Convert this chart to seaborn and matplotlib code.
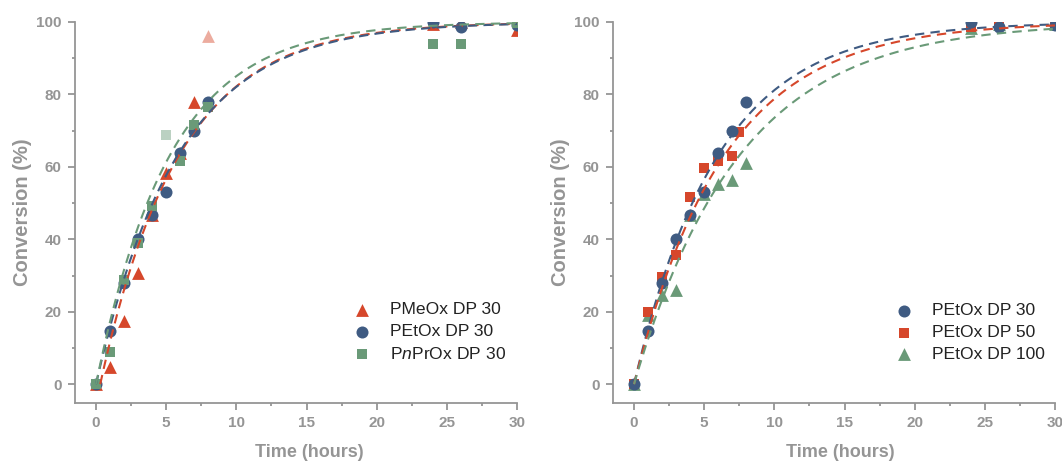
import numpy as np
import pandas as pd
import matplotlib
matplotlib.use("Agg")
import matplotlib.pyplot as plt
from matplotlib.ticker import MultipleLocator
import seaborn as sns

sns.set_theme(style="white")
plt.rcParams['font.family'] = ['Liberation Sans', 'DejaVu Sans']
plt.rcParams['mathtext.fontset'] = 'custom'
plt.rcParams['mathtext.it'] = 'Liberation Sans:italic'
plt.rcParams['mathtext.rm'] = 'Liberation Sans'

# ---------------- data ----------------
time_pts = [0, 1, 2, 3, 4, 5, 6, 7, 8, 24, 26, 30]

# Left panel
pmeox_30 = [0, 4.7, 17.4, 30.7, 46.7, 58.2, 63.7, 78.0, 96.0, 99.4, 100.0, 97.8]
pmeox_30_excluded = [False, False, False, False, False, False, False, False, True, False, False, False]
petox_30 = [0, 14.6, 27.8, 40.2, 46.6, 53.0, 63.7, 69.9, 77.9, 100.0, 98.5, 99.2]
pnprox_30 = [0, 8.8, 28.7, 39.0, 49.2, 68.7, 61.7, 71.5, 76.5, 94.0, 94.0, 99.7]
pnprox_30_excluded = [False, False, False, False, False, True, False, False, False, False, False, False]

# Right panel
time_dp50 = [0, 1, 2, 3, 4, 5, 6, 7, 7.5, 24, 26, 30]
petox_50 = [0, 20.0, 29.5, 35.6, 51.6, 59.8, 61.6, 63.0, 69.7, 98.7, 99.4, 99.4]
petox_100 = [0, 19.0, 24.6, 26.0, 46.6, 52.4, 55.4, 56.4, 61.1, 98.3, 99.4, 99.4]

# First-order fit parameters: rate constant k (1/h) and lag t0 (h)
left_fit_names = ["PMeOx DP 30", "PEtOx DP 30", "PnPrOx DP 30"]
left_fit_k = [0.178, 0.172, 0.19]
left_fit_t0 = [0.3, 0.0, 0.0]
right_fit_names = ["PEtOx DP 30", "PEtOx DP 50", "PEtOx DP 100"]
right_fit_k = [0.167, 0.155, 0.133]
right_fit_t0 = [0.0, 0.0, 0.0]

RED = "#d6472b"
BLUE = "#3f5b82"
GREEN = "#6a9a78"
GRAY = "#959595"

def fit_frame(names, ks, t0s):
    rows = []
    for n, k, t0 in zip(names, ks, t0s):
        t = np.linspace(t0, 30, 300)
        y = 100 * (1 - np.exp(-k * (t - t0)))
        rows.append(pd.DataFrame({"t": t, "y": y, "series": n}))
    return pd.concat(rows, ignore_index=True)

def style_ax(ax, xlab_x):
    ax.set_xlim(-1.5, 30)
    ax.set_ylim(-5.2, 100)
    ax.xaxis.set_major_locator(MultipleLocator(5))
    ax.xaxis.set_minor_locator(MultipleLocator(2.5))
    ax.yaxis.set_major_locator(MultipleLocator(20))
    ax.yaxis.set_minor_locator(MultipleLocator(10))
    for s in ["top", "right"]:
        ax.spines[s].set_visible(False)
    for s in ["left", "bottom"]:
        ax.spines[s].set_color(GRAY)
        ax.spines[s].set_linewidth(1.3)
    ax.tick_params(which="major", direction="out", length=5, width=1.3, color=GRAY,
                   labelcolor=GRAY, labelsize=11, bottom=True, left=True, pad=4.5)
    ax.tick_params(which="minor", direction="out", length=2.5, width=1.3, color=GRAY,
                   bottom=True, left=True)
    for lab in ax.get_xticklabels() + ax.get_yticklabels():
        lab.set_fontweight("bold")
    ax.set_xlabel("Time (hours)", fontsize=13, fontweight="bold", color=GRAY)
    ax.xaxis.set_label_coords(xlab_x, -0.108)
    ax.set_ylabel("Conversion (%)", fontsize=14.5, fontweight="bold", color=GRAY, labelpad=3)
    ax.grid(False)

fig = plt.figure(figsize=(10.62, 4.63), dpi=100)
axL = fig.add_axes([0.0706, 0.1296, 0.4162, 0.8229])
axR = fig.add_axes([0.5772, 0.1296, 0.4162, 0.8229])

# ---------- left panel ----------
lab_n = r"P$\mathit{n}$PrOx DP 30"
dfL = pd.concat([
    pd.DataFrame({"t": time_pts, "y": pmeox_30, "series": "PMeOx DP 30", "excl": pmeox_30_excluded}),
    pd.DataFrame({"t": time_pts, "y": petox_30, "series": "PEtOx DP 30", "excl": [False] * len(time_pts)}),
    pd.DataFrame({"t": time_pts, "y": pnprox_30, "series": lab_n, "excl": pnprox_30_excluded}),
], ignore_index=True)
palL = {"PMeOx DP 30": RED, "PEtOx DP 30": BLUE, lab_n: GREEN}
mkL = {"PMeOx DP 30": "^", "PEtOx DP 30": "o", lab_n: "s"}
sizeL = {"PMeOx DP 30": 85, "PEtOx DP 30": 75, lab_n: 55}

for name in ["PMeOx DP 30", "PEtOx DP 30", lab_n]:
    sub = dfL[(dfL.series == name) & (~dfL.excl)]
    sns.scatterplot(data=sub, x="t", y="y", ax=axL, color=palL[name], marker=mkL[name],
                    s=sizeL[name], linewidth=0, label=name, zorder=3)
    subx = dfL[(dfL.series == name) & (dfL.excl)]
    if len(subx):
        sns.scatterplot(data=subx, x="t", y="y", ax=axL, color=palL[name], marker=mkL[name],
                        s=sizeL[name], linewidth=0, alpha=0.45, legend=False, zorder=3)

fitL = fit_frame(left_fit_names, left_fit_k, left_fit_t0)
fit_colL = {"PMeOx DP 30": RED, "PEtOx DP 30": BLUE, "PnPrOx DP 30": GREEN}
for name in left_fit_names:
    sns.lineplot(data=fitL[fitL.series == name], x="t", y="y", ax=axL, color=fit_colL[name],
                 linewidth=1.5, linestyle=(0, (4.5, 3)), legend=False, zorder=4)

hL, lL = axL.get_legend_handles_labels()
axL.legend(hL[:3], lL[:3], loc="lower right", bbox_to_anchor=(1.0, 0.08), frameon=False,
           fontsize=12.6, handletextpad=0.6, labelspacing=0.38, borderaxespad=0.2,
           labelcolor="#222222")
style_ax(axL, 0.53)

# ---------- right panel ----------
dfR = pd.concat([
    pd.DataFrame({"t": time_pts, "y": petox_30, "series": "PEtOx DP 30"}),
    pd.DataFrame({"t": time_dp50, "y": petox_50, "series": "PEtOx DP 50"}),
    pd.DataFrame({"t": time_pts, "y": petox_100, "series": "PEtOx DP 100"}),
], ignore_index=True)
palR = {"PEtOx DP 30": BLUE, "PEtOx DP 50": RED, "PEtOx DP 100": GREEN}
mkR = {"PEtOx DP 30": "o", "PEtOx DP 50": "s", "PEtOx DP 100": "^"}
sizeR = {"PEtOx DP 30": 75, "PEtOx DP 50": 60, "PEtOx DP 100": 85}
for name in ["PEtOx DP 100", "PEtOx DP 50", "PEtOx DP 30"]:
    sub = dfR[dfR.series == name]
    sns.scatterplot(data=sub, x="t", y="y", ax=axR, color=palR[name], marker=mkR[name],
                    s=sizeR[name], linewidth=0, label=name, zorder=3)

fitR = fit_frame(right_fit_names, right_fit_k, right_fit_t0)
for name in right_fit_names:
    sns.lineplot(data=fitR[fitR.series == name], x="t", y="y", ax=axR, color=palR[name],
                 linewidth=1.5, linestyle=(0, (4.5, 3)), legend=False, zorder=4)

hR, lR = axR.get_legend_handles_labels()
order = ["PEtOx DP 30", "PEtOx DP 50", "PEtOx DP 100"]
hmap = dict(zip(lR, hR))
axR.legend([hmap[o] for o in order], order, loc="lower right", bbox_to_anchor=(1.0, 0.08),
           frameon=False, fontsize=12.6, handletextpad=0.6, labelspacing=0.38,
           borderaxespad=0.2, labelcolor="#222222")
style_ax(axR, 0.515)

fig.savefig("out.png", dpi=100)
